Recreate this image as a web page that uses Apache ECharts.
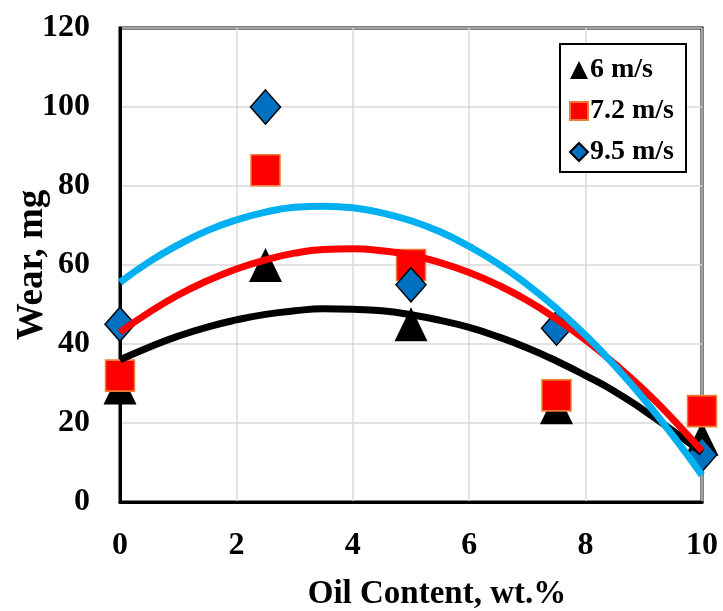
<!DOCTYPE html>
<html lang="en">
<head>
  <meta charset="UTF-8">
  <title>Wear vs Oil Content</title>
  <style>
    body {
      margin: 0;
      background-color: #fff;
    }
    #chart {
      width: 723px;
      height: 611px;
    }
  </style>
  <script src="https://cdn.jsdelivr.net/npm/echarts@6/dist/echarts.min.js"></script>
</head>
<body>
  <div id="chart"></div>
  <script>
    // measured points
    var oilContent = [0, 2.5, 5, 7.5, 10];
    var wear6 = [29, 60, 45, 24, 16];
    var wear72 = [32, 84, 60, 27, 23];
    var wear95 = [45, 100, 55, 44, 12];

    // trend curves every 0.5 wt.%
    var trendX = [0, 0.5, 1, 1.5, 2, 2.5, 3, 3.5, 4, 4.5, 5, 5.5, 6, 6.5, 7, 7.5, 8, 8.5, 9, 9.5, 10];
    var trend6 = [36, 39.2, 42, 44.3, 46.1, 47.5, 48.4, 48.9, 48.8, 48.4, 47.4, 46, 44.2, 41.8, 39, 35.7, 32, 28, 23.2, 18, 12.5];
    var trend72 = [43, 48, 52.4, 56, 59, 61.3, 63, 63.9, 64.1, 63.6, 62.5, 60.6, 58.1, 54.9, 51, 46.3, 41, 35, 28.4, 21, 12.9];
    var trend95 = [55.6, 60.8, 65.1, 68.7, 71.4, 73.4, 74.6, 74.9, 74.5, 73.2, 71.2, 68.4, 64.7, 60.3, 55, 49, 42.2, 34.5, 26.1, 16.8, 6.8];

    var xTicks = [0, 2, 4, 6, 8, 10];
    var yTicks = [0, 20, 40, 60, 80, 100, 120];

    function pairs(xs, ys) {
      return xs.map(function (x, i) { return [x, ys[i]]; });
    }

    var font = 'Liberation Serif';
    var chart = echarts.init(document.getElementById('chart'));

    chart.setOption({
      animation: false,
      grid: {
        left: 120,
        right: 21,
        top: 28,
        bottom: 109,
        outerBoundsMode: 'none',
        show: true,
        borderColor: '#000',
        borderWidth: 3
      },
      legend: {
        data: ['6 m/s', '7.2 m/s', '9.5 m/s'],
        orient: 'vertical',
        left: 560,
        top: 44,
        padding: [12, 12, 6, 9],
        itemGap: 13,
        itemWidth: 18,
        itemHeight: 18,
        borderColor: '#000',
        borderWidth: 2,
        backgroundColor: '#fff',
        textStyle: {
          fontFamily: font,
          fontWeight: 'bold',
          fontSize: 28,
          color: '#000',
          padding: [0, 0, 0, -3]
        }
      },
      xAxis: {
        type: 'value',
        min: 0,
        max: 10,
        interval: 2,
        name: 'Oil Content, wt.%',
        nameLocation: 'middle',
        nameGap: 76,
        nameMoveOverlap: false,
        nameTextStyle: {
          fontFamily: font,
          fontWeight: 'bold',
          fontSize: 33,
          color: '#000',
          padding: [0, 0, 0, 52]
        },
        axisLine: { lineStyle: { color: '#000', width: 3 } },
        axisTick: { show: false },
        axisLabel: {
          margin: 28,
          fontFamily: font,
          fontWeight: 'bold',
          fontSize: 32,
          color: '#000',
          formatter: function (v) { return xTicks.indexOf(v) >= 0 ? String(v) : ''; }
        },
        splitLine: { lineStyle: { color: '#d9d9d9', width: 1.5 } }
      },
      yAxis: {
        type: 'value',
        min: 0,
        max: 120,
        interval: 20,
        name: 'Wear, mg',
        nameLocation: 'middle',
        nameGap: 69,
        nameMoveOverlap: false,
        nameTextStyle: {
          fontFamily: font,
          fontWeight: 'bold',
          fontSize: 37,
          color: '#000'
        },
        axisLine: { show: true, lineStyle: { color: '#000', width: 3 } },
        axisTick: { show: false },
        axisLabel: {
          margin: 30,
          fontFamily: font,
          fontWeight: 'bold',
          fontSize: 32,
          color: '#000',
          formatter: function (v) { return yTicks.indexOf(v) >= 0 ? String(v) : ''; }
        },
        splitLine: { lineStyle: { color: '#d9d9d9', width: 1.5 } }
      },
      series: [
        {
          name: '6 m/s',
          type: 'scatter',
          symbol: 'triangle',
          symbolSize: [33, 34],
          z: 2,
          itemStyle: { color: '#000', opacity: 1 },
          data: pairs(oilContent, wear6)
        },
        {
          name: '7.2 m/s',
          type: 'scatter',
          symbol: 'rect',
          symbolSize: [29, 31],
          z: 2,
          itemStyle: { color: '#ff0000', borderColor: '#ed7d31', borderWidth: 1.5, opacity: 1 },
          data: pairs(oilContent, wear72)
        },
        {
          name: '9.5 m/s',
          type: 'scatter',
          symbol: 'diamond',
          symbolSize: [30, 34],
          z: 2,
          itemStyle: { color: '#0070c0', borderColor: '#000', borderWidth: 1.5, opacity: 1 },
          data: pairs(oilContent, wear95)
        },
        {
          name: 'trend 6',
          type: 'line',
          smooth: true,
          symbol: 'none',
          z: 3,
          lineStyle: { color: '#000', width: 7 },
          data: pairs(trendX, trend6)
        },
        {
          name: 'trend 7.2',
          type: 'line',
          smooth: true,
          symbol: 'none',
          z: 3,
          lineStyle: { color: '#ff0000', width: 7 },
          data: pairs(trendX, trend72)
        },
        {
          name: 'trend 9.5',
          type: 'line',
          smooth: true,
          symbol: 'none',
          z: 3,
          lineStyle: { color: '#00b0f0', width: 7 },
          data: pairs(trendX, trend95)
        }
      ]
    });
  </script>
</body>
</html>
